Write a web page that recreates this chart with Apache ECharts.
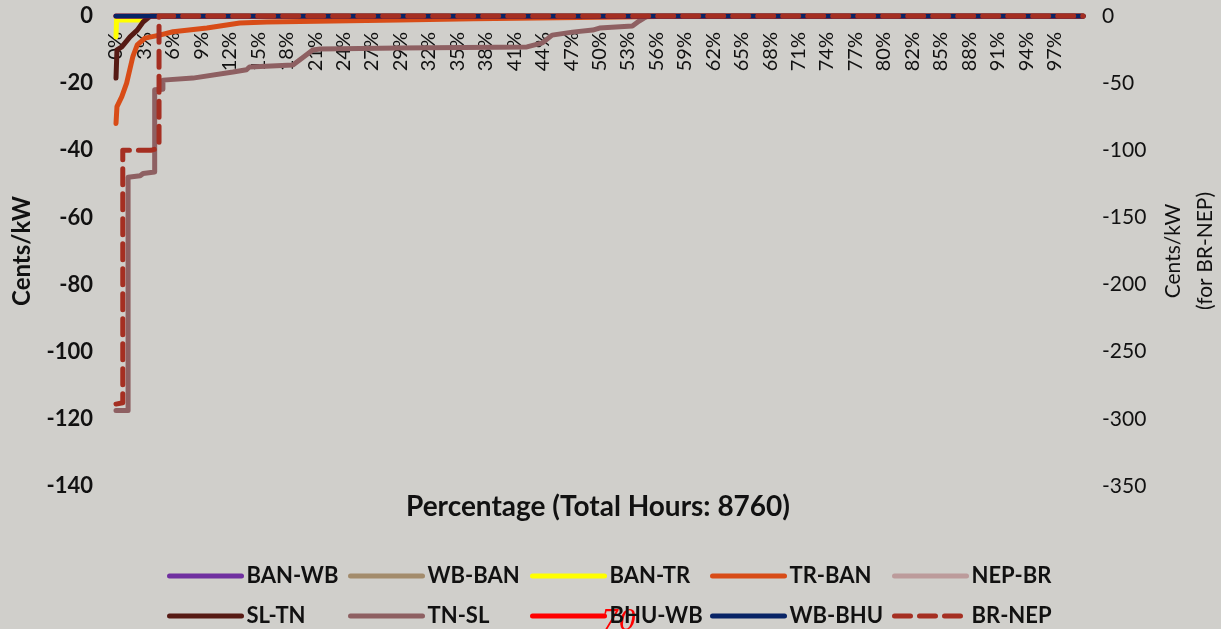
<!DOCTYPE html>
<html>
<head>
<meta charset="utf-8">
<title>Cents/kW</title>
<script src="https://cdn.jsdelivr.net/npm/echarts@6/dist/echarts.min.js"></script>
<style>
  html, body { margin: 0; padding: 0; background: #d0cfcb; }
  #main { width: 1221px; height: 629px; }
</style>
</head>
<body>
<div id="main"></div>
<script>
// x tick labels (percentage of total hours)
var tickLabels = ['0%', '3%', '6%', '9%', '12%', '15%', '18%', '21%', '24%', '27%', '29%', '32%',
    '35%', '38%', '41%', '44%', '47%', '50%', '53%', '56%', '59%', '62%', '65%', '68%', '71%',
    '74%', '77%', '80%', '82%', '85%', '88%', '91%', '94%', '97%'];

// series, points are [percent of hours, cents/kW]
var banWb = [[0, 0], [100, 0]];
var wbBan = [[0, 0], [100, 0]];
var banTr = [[0, -6.2], [0.05, -1.2], [2.5, -1.2], [2.6, 0], [100, 0]];
var trBan = [[0, -32], [0.1, -27], [0.6, -24], [1.1, -20], [1.75, -12], [2.2, -8.6], [3.0, -6.6],
    [4.5, -5.7], [5.9, -4.7], [9.4, -3.6], [12.8, -2.1], [15.6, -1.8], [29.3, -1.2], [37, -0.8],
    [50, -0.4], [60, 0], [100, 0]];
var nepBr = [[0, 0], [100, 0]];
var slTn = [[0, -18.5], [0.1, -10.1], [0.6, -9.2], [1.45, -6.2], [2.2, -4.2], [2.8, -1.8],
    [3.3, -0.6], [3.6, 0], [100, 0]];
var tnSl = [[0, -117.5], [1.25, -117.5], [1.25, -48], [2.5, -47.6], [2.8, -46.9], [4.0, -46.5],
    [4.0, -22], [4.85, -21.8], [4.85, -19.1], [7.95, -18.5], [12.1, -16.7], [13.5, -16],
    [13.8, -15.2], [18.3, -14.6], [20.35, -10.1], [21.1, -9.8], [29.3, -9.5], [42.5, -9.2],
    [44.1, -8.0], [45.1, -5.7], [47.2, -4.8], [49.3, -4.2], [50, -3.6], [53.4, -3.0],
    [54.1, -1.5], [54.6, -0.6], [55, 0], [100, 0]];
var bhuWb = [[0, 0], [100, 0]];
var wbBhu = [[0, 0], [100, 0]];
// BR-NEP is on the right axis
var brNep = [[0, -289], [0.7, -288], [0.7, -100], [3.6, -100], [4.1, -99], [4.45, -95],
    [4.45, 0], [100, 0]];

var legendRow1 = ['BAN-WB', 'WB-BAN', 'BAN-TR', 'TR-BAN', 'NEP-BR'];
var legendRow2 = ['SL-TN', 'TN-SL', 'BHU-WB', 'WB-BHU', 'BR-NEP'];

var step = 100 / 34;
var font = 'Lato, "Open Sans", sans-serif';

function line(name, data, color, extra) {
    var s = {
        name: name,
        type: 'line',
        data: data,
        symbol: 'none',
        lineStyle: { color: color, width: 5, cap: 'round', join: 'round' },
        itemStyle: { color: color }
    };
    return Object.assign(s, extra || {});
}

var myChart = echarts.init(document.getElementById('main'));

// one legend per item so the columns line up like the original
var colX = [167, 348, 530, 710, 892];
var legends = [];
[legendRow1, legendRow2].forEach(function(row, r) {
    row.forEach(function(name, c) {
        legends.push({
            data: [name],
            left: colX[c], top: r == 0 ? 565 : 605, padding: 0,
            itemWidth: 72, itemHeight: 14,
            itemStyle: { opacity: 0 },
            lineStyle: { width: 5, cap: 'round' },
            textStyle: { fontFamily: font, fontWeight: 'bold', fontSize: 22, color: '#111' }
        });
    });
});

var option = {
    backgroundColor: '#d0cfcb',
    animation: false,
    legend: legends,
    grid: { left: 116, right: 138, top: 16, bottom: 143, outerBoundsMode: 'none' },
    xAxis: {
        type: 'value',
        position: 'top',
        min: 0,
        max: 100,
        interval: step,
        axisLine: { show: false },
        axisTick: { show: false },
        splitLine: { show: false },
        axisLabel: {
            inside: true,
            rotate: 90,
            margin: 16,
            showMaxLabel: false,
            fontFamily: font,
            fontSize: 20,
            color: '#111',
            formatter: function(v) {
                return tickLabels[Math.round(v / step)] || '';
            }
        }
    },
    yAxis: [
        {
            type: 'value',
            min: -140,
            max: 0,
            interval: 20,
            name: 'Cents/kW',
            nameLocation: 'middle',
            nameGap: 82,
            nameTextStyle: { fontFamily: font, fontWeight: 'bold', fontSize: 24, color: '#111' },
            axisLine: { show: false },
            axisTick: { show: false },
            splitLine: { show: false },
            axisLabel: { margin: 23, fontFamily: font, fontWeight: 'bold', fontSize: 22, color: '#111' }
        },
        {
            type: 'value',
            min: -350,
            max: 0,
            interval: 50,
            name: 'Cents/kW\n(for BR-NEP)',
            nameLocation: 'middle',
            nameGap: 69,
            nameRotate: 90,
            nameTextStyle: { fontFamily: font, fontSize: 21, color: '#111', lineHeight: 32 },
            axisLine: { show: false },
            axisTick: { show: false },
            splitLine: { show: false },
            axisLabel: { margin: 19, fontFamily: font, fontSize: 21, color: '#111' }
        }
    ],
    series: [
        line('BAN-WB', banWb, '#7030a0'),
        line('WB-BAN', wbBan, '#a38c6c'),
        line('BAN-TR', banTr, '#ffff00'),
        line('TR-BAN', trBan, '#d84c17'),
        line('NEP-BR', nepBr, '#bc9b9b'),
        line('SL-TN', slTn, '#561a14'),
        line('TN-SL', tnSl, '#8e6062'),
        line('BHU-WB', bhuWb, '#ff0000'),
        line('WB-BHU', wbBhu, '#082466'),
        line('BR-NEP', brNep, '#a52f22', {
            yAxisIndex: 1,
            lineStyle: { color: '#a52f22', width: 5, type: [16, 9], cap: 'round', join: 'round' }
        })
    ],
    graphic: [
        {
            type: 'text',
            x: 598,
            y: 507,
            style: {
                text: 'Percentage (Total Hours: 8760)',
                align: 'center',
                verticalAlign: 'middle',
                fill: '#111',
                font: 'bold 28px Lato, "Open Sans", sans-serif'
            }
        },
        {
            type: 'text',
            left: 601,
            top: 609,
            style: { text: '70', fill: '#ff0000', font: 'italic 28px "DejaVu Serif", serif' }
        }
    ]
};

myChart.setOption(option);
</script>
</body>
</html>
